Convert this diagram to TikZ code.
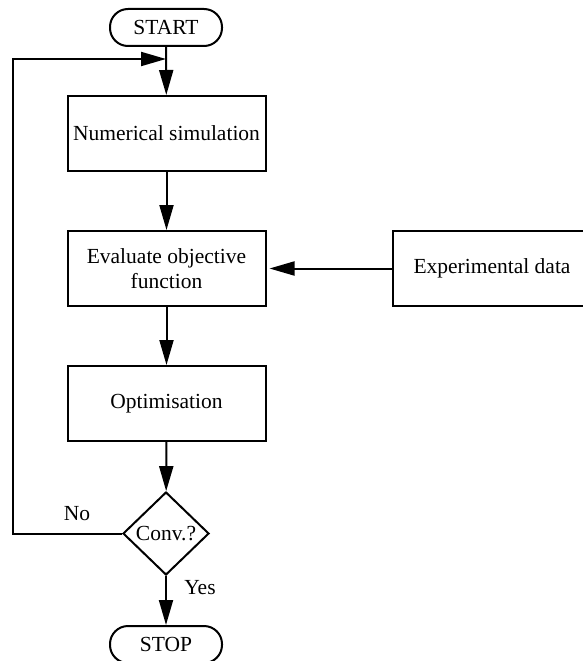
\documentclass[tikz,border=0pt]{standalone}
\usepackage{fontspec}
\setmainfont{Liberation Serif}
\usetikzlibrary{arrows.meta,shapes.geometric}
\begin{document}
\begin{tikzpicture}[x=1pt,y=-1pt,
  every node/.style={font=\fontsize{21.5}{24.5}\selectfont},
  box/.style={draw,line width=2pt,minimum width=198pt,minimum height=75pt,inner sep=2pt,align=center},
  term/.style={draw,line width=2pt,rounded corners=18pt,minimum width=112pt,minimum height=37pt,inner sep=0pt},
  dec/.style={draw,line width=2pt,diamond,minimum width=86pt,minimum height=83pt,inner sep=0pt},
  conn/.style={line width=2pt,-{Triangle[length=25pt,width=14pt]}}]
\useasboundingbox (0,0) rectangle (582,661);
\node[term] (start) at (166,27.5) {START};
\node[box] (sim) at (166.5,133.5) {Numerical simulation};
\node[box] (eval) at (166.5,268.5) {Evaluate objective\\function};
\node[box] (exp) at (492,268.5) {Experimental data};
\node[box] (opt) at (166.5,403.5) {Optimisation};
\node[dec] (conv) at (166,533.5) {Conv.?};
\node[term] (stop) at (166,644.5) {STOP};
\coordinate (j) at (166,59);
\coordinate (c1) at (13,533.5);
\coordinate (c2) at (13,59);
\node (no) at (77,514) {No};
\node (yes) at (200,588) {Yes};
\draw[conn] (start) -- (sim);
\draw[conn] (sim) -- (eval);
\draw[conn,shorten >=3pt] (exp) -- (eval);
\draw[conn] (eval) -- (opt);
\draw[conn] (opt) -- (conv);
\draw[conn] (conv) -- (stop);
\draw[conn,line join=miter] (conv.west) -- (c1) -- (c2) -- (j);
\end{tikzpicture}
\end{document}
